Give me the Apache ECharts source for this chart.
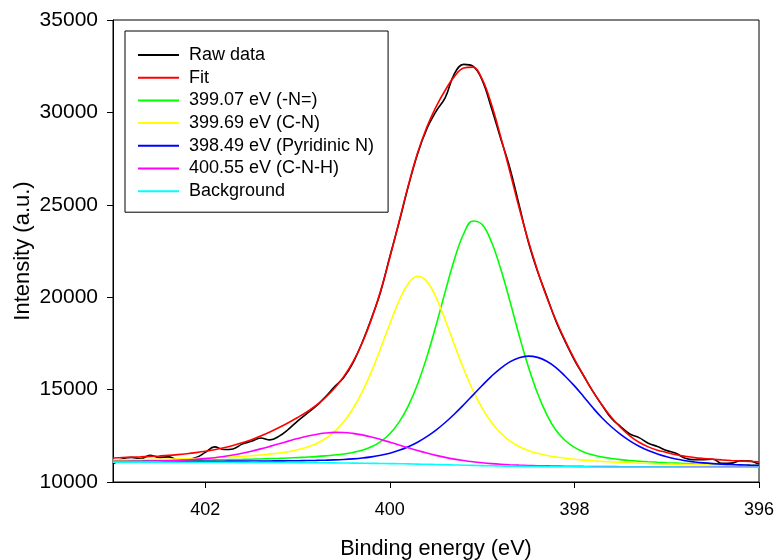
<!DOCTYPE html>
<html>
<head>
<meta charset="utf-8">
<script src="https://cdn.jsdelivr.net/npm/echarts@6/dist/echarts.min.js"></script>
<style>
html,body{margin:0;padding:0;background:#fff;}
#chart{width:778px;height:560px;}
</style>
</head>
<body>
<div id="chart"></div>
<script>
// Binding energy grid (eV), from 403.0 down to 396.0
const energy = [403.0,402.9,402.8,402.7,402.6,402.5,402.4,402.3,402.2,402.1,402.0,
  401.9,401.8,401.7,401.6,401.5,401.4,401.3,401.2,401.1,401.0,
  400.9,400.8,400.7,400.6,400.5,400.4,400.3,400.2,400.1,400.0,
  399.9,399.8,399.7,399.6,399.5,399.4,399.3,399.2,399.1,399.0,
  398.9,398.8,398.7,398.6,398.5,398.4,398.3,398.2,398.1,398.0,
  397.9,397.8,397.7,397.6,397.5,397.4,397.3,397.2,397.1,397.0,
  396.9,396.8,396.7,396.6,396.5,396.4,396.3,396.2,396.1,396.0];

const rawData = [10980,11250,11330,11260,11450,11330,11360,11220,11210,11320,11600,
  11900,11760,11790,12050,12200,12380,12280,12480,12850,13300,
  13700,14100,14600,15150,15650,16450,17550,18850,20300,22200,
  24050,26000,27750,29100,30050,30800,32100,32600,32500,31750,
  30250,28600,27000,25000,23000,21400,20050,18700,17600,16600,
  15750,14900,14150,13450,13000,12600,12400,12100,11920,11700,
  11550,11280,11200,11210,11230,11010,11020,11150,11140,10960];

const fitData = [11300,11320,11340,11360,11385,11410,11440,11480,11530,11590,11660,
  11745,11850,11975,12120,12290,12490,12710,12950,13210,13490,
  13790,14140,14560,15070,15700,16500,17520,18800,20350,22150,
  24100,26050,27800,29200,30300,31200,31950,32400,32450,31800,
  30450,28700,26800,24850,23050,21450,20000,18750,17650,16650,
  15750,14900,14150,13500,12950,12500,12150,11900,11720,11600,
  11470,11390,11320,11270,11230,11195,11165,11140,11115,11090];

const peakN = [11143,11147,11151,11155,11158,11162,11166,11171,11175,11183,11189,
  11197,11205,11215,11224,11235,11248,11263,11279,11298,11320,
  11345,11374,11412,11459,11516,11599,11721,11906,12188,12614,
  13239,14117,15288,16757,18469,20303,22056,23434,24127,23934,
  23000,21550,19800,17950,16250,14800,13650,12796,12246,11874,
  11626,11463,11350,11272,11212,11164,11125,11093,11065,11041,
  11020,11001,10984,10969,10956,10943,10932,10922,10913,10905];

const peakCN = [11188,11195,11203,11212,11220,11229,11239,11251,11264,11279,11296,
  11315,11336,11361,11389,11422,11460,11508,11567,11640,11740,
  11876,12067,12340,12724,13256,13965,14872,15974,17234,18564,
  19810,20746,21136,20855,19990,18766,17419,16117,14961,13996,
  13231,12652,12226,11922,11705,11551,11438,11352,11285,11231,
  11185,11148,11115,11086,11061,11039,11020,11003,10988,10974,
  10961,10950,10939,10930,10921,10913,10905,10898,10892,10886];

const peakPyr = [11109,11110,11112,11113,11114,11115,11116,11117,11119,11120,11122,
  11124,11126,11129,11131,11133,11136,11139,11143,11148,11153,
  11160,11169,11181,11196,11219,11251,11295,11359,11445,11561,
  11713,11909,12153,12452,12808,13219,13681,14181,14702,15224,
  15718,16154,16500,16727,16812,16744,16532,16194,15723,15200,
  14617,14015,13463,12991,12579,12228,11937,11706,11515,11364,
  11243,11152,11086,11035,10996,10966,10943,10926,10911,10900];

const peakCNH = [11107,11110,11115,11120,11127,11136,11149,11166,11190,11222,11263,
  11316,11382,11463,11558,11668,11792,11927,12068,12211,12349,
  12473,12575,12648,12683,12678,12632,12549,12437,12303,12155,
  12001,11849,11702,11565,11441,11332,11238,11159,11093,11040,
  10996,10961,10934,10912,10895,10881,10871,10862,10855,10849,
  10844,10840,10836,10833,10829,10827,10825,10823,10821,10819,
  10817,10815,10814,10812,10810,10809,10807,10806,10804,10803];

const backgroundData = [11075,11075,11075,11075,11074,11073,11072,11071,11070,11069,11068,
  11067,11066,11065,11063,11061,11059,11057,11055,11052,11049,
  11046,11042,11038,11033,11028,11022,11016,11010,11003,10996,
  10988,10979,10969,10958,10946,10934,10922,10910,10898,10887,
  10876,10866,10857,10849,10842,10836,10831,10827,10823,10820,
  10817,10815,10813,10811,10809,10808,10807,10806,10805,10804,
  10803,10802,10801,10800,10799,10798,10797,10796,10795,10794];

const seriesNames = ['Raw data','Fit','399.07 eV (-N=)','399.69 eV (C-N)','398.49 eV (Pyridinic N)','400.55 eV (C-N-H)','Background'];
const seriesColors = ['#000000','#ff0000','#00ff00','#ffff00','#0000ff','#ff00ff','#00ffff'];
const seriesValues = [rawData, fitData, peakN, peakCN, peakPyr, peakCNH, backgroundData];
const xTicks = [396,398,400,402];

const FONT = '"Liberation Sans", Arial, sans-serif';
const chart = echarts.init(document.getElementById('chart'), null, {renderer:'canvas'});

const zOrder = [2,3,4,4,4,4,5];
const series = seriesNames.map((name, k) => ({
  name: name,
  type: 'line',
  data: energy.map((x, i) => [x, seriesValues[k][i]]),
  showSymbol: false,
  symbol: 'none',
  smooth: 0.4,
  z: zOrder[k],
  lineStyle: {color: seriesColors[k], width: 1.6},
  itemStyle: {color: seriesColors[k]}
}));

chart.setOption({
  animation: false,
  backgroundColor: '#ffffff',
  textStyle: {fontFamily: FONT},
  grid: {left:113, right:19, top:20, bottom:78, show:true, borderColor:'#000', borderWidth:1,
         backgroundColor:'transparent', outerBoundsMode:'none', containLabel:false},
  legend: {
    orient: 'vertical',
    left: 125, top: 31,
    padding: [15, 14, 12, 13],
    icon: 'rect',
    itemWidth: 41, itemHeight: 2, itemGap: 4.7,
    borderColor: '#000', borderWidth: 1,
    backgroundColor: '#fff',
    data: seriesNames,
    textStyle: {fontSize: 18, color: '#000', fontFamily: FONT, padding: [0,0,0,5]}
  },
  xAxis: {
    type: 'value', inverse: true, min: 396, max: 403, interval: 2,
    name: 'Binding energy (eV)', nameLocation: 'middle', nameGap: 56, nameMoveOverlap: false,
    nameTextStyle: {fontSize: 21.7, color: '#000', fontFamily: FONT},
    axisLine: {show: true, lineStyle: {color: '#000', width: 1}},
    axisTick: {show: true, length: 6, lineStyle: {color: '#000'}, customValues: xTicks},
    axisLabel: {fontSize: 18, color: '#000', margin: 19, fontFamily: FONT, customValues: xTicks,
                formatter: function (v) { return String(v); }},
    splitLine: {show: false}
  },
  yAxis: {
    type: 'value', min: 10000, max: 35000, interval: 5000,
    name: 'Intensity (a.u.)', nameLocation: 'middle', nameGap: 79, nameMoveOverlap: false,
    nameTextStyle: {fontSize: 22, color: '#000', fontFamily: FONT},
    axisLine: {show: true, lineStyle: {color: '#000', width: 1}},
    axisTick: {show: true, length: 6, lineStyle: {color: '#000'}},
    axisLabel: {fontSize: 21, color: '#000', margin: 15, fontFamily: FONT,
                formatter: function (v) { return String(v); }},
    splitLine: {show: false}
  },
  series: series
});
</script>
</body>
</html>
